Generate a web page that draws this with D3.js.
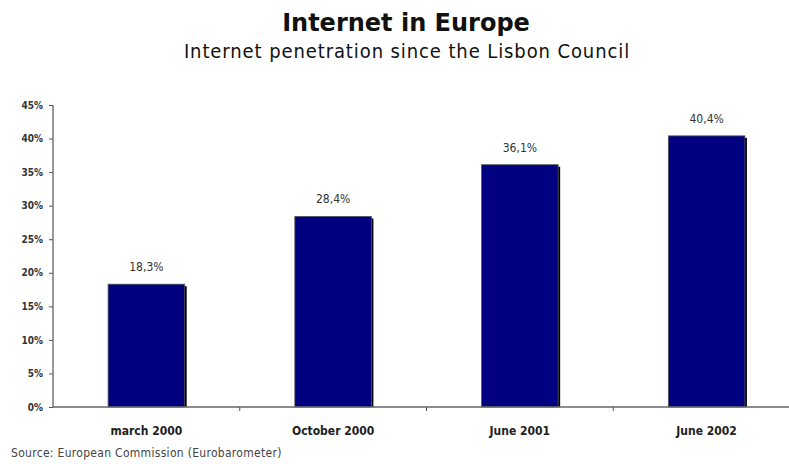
<!DOCTYPE html>
<html>
<head>
<meta charset="utf-8">
<script src="https://cdn.jsdelivr.net/npm/d3@7"></script>
<style>
  body { margin: 0; background: #fff; }
  svg { display: block; }
</style>
</head>
<body>
<div id="vis"></div>
<script>
// data
var categories = ["march 2000", "October 2000", "June 2001", "June 2002"];
var values = [18.3, 28.4, 36.1, 40.4];
var yTicks = [0, 5, 10, 15, 20, 25, 30, 35, 40, 45];

var w = 789, h = 464;
var narrow = "'DejaVu Sans Condensed', 'Liberation Sans Narrow', sans-serif";

var svg = d3.select("#vis").append("svg")
  .attr("width", w)
  .attr("height", h);

// title
svg.append("text")
  .attr("x", 406).attr("y", 31)
  .attr("text-anchor", "middle")
  .style("font-family", "'DejaVu Sans', Verdana, sans-serif")
  .style("font-weight", "bold")
  .style("font-size", "24px")
  .attr("fill", "#111")
  .text("Internet in Europe");

svg.append("text")
  .attr("x", 407).attr("y", 58)
  .attr("text-anchor", "middle")
  .style("font-family", narrow)
  .style("font-size", "20px")
  .style("letter-spacing", "0.9px")
  .attr("fill", "#111")
  .text("Internet penetration since the Lisbon Council");

var x0 = 53, x1 = 800, y0 = 407, y1 = 105;

var xScale = d3.scaleBand()
  .domain(categories)
  .range([x0, x1])
  .paddingInner(0.59)
  .paddingOuter(0.295);

var yScale = d3.scaleLinear()
  .domain([0, 45])
  .range([y0, y1]);

// bars with a dark drop shadow on the right
var bars = svg.append("g");
bars.selectAll("rect.shadow")
  .data(values)
  .enter()
  .append("rect")
  .attr("class", "shadow")
  .attr("x", function(d, i){ return xScale(categories[i]) + 2; })
  .attr("y", function(d){ return yScale(d) + 2; })
  .attr("width", xScale.bandwidth())
  .attr("height", function(d){ return y0 - yScale(d) - 2; })
  .attr("fill", "#000");

bars.selectAll("rect.bar")
  .data(values)
  .enter()
  .append("rect")
  .attr("class", "bar")
  .attr("x", function(d, i){ return xScale(categories[i]); })
  .attr("y", function(d){ return yScale(d); })
  .attr("width", xScale.bandwidth())
  .attr("height", function(d){ return y0 - yScale(d); })
  .attr("fill", "#000080")
  .attr("stroke", "#555")
  .attr("stroke-width", 0.8);

// value labels
svg.selectAll("text.val")
  .data(values)
  .enter()
  .append("text")
  .attr("class", "val")
  .attr("x", function(d, i){ return xScale(categories[i]) + xScale.bandwidth() / 2; })
  .attr("y", function(d){ return yScale(d) - 13; })
  .attr("text-anchor", "middle")
  .style("font-family", narrow)
  .style("font-size", "12px")
  .attr("fill", "#333")
  .text(function(d){ return String(d).replace(".", ",") + "%"; });

// y axis
var yAxis = d3.axisLeft(yScale)
  .tickValues(yTicks)
  .tickSize(4)
  .tickFormat(function(d){ return d + "%"; });

var gy = svg.append("g")
  .attr("transform", "translate(" + x0 + ",0)")
  .call(yAxis);
gy.select(".domain").attr("stroke", "#777").attr("stroke-width", 1.5).attr("d", "M0," + y1 + "V" + y0);
gy.selectAll(".tick line").attr("stroke", "#555");
gy.selectAll(".tick text")
  .attr("x", -10)
  .style("font-family", narrow)
  .style("font-weight", "bold")
  .style("font-size", "10px")
  .attr("fill", "#333");

// x axis
var gx = svg.append("g")
  .attr("transform", "translate(0," + y0 + ")");
gx.append("line")
  .attr("x1", x0).attr("x2", w)
  .attr("stroke", "#666").attr("stroke-width", 1.5);
gx.selectAll("line.tick")
  .data(categories.slice(1))
  .enter()
  .append("line")
  .attr("class", "tick")
  .attr("x1", function(d){ return xScale(d) - xScale.step() * xScale.paddingInner() / 2; })
  .attr("x2", function(d){ return xScale(d) - xScale.step() * xScale.paddingInner() / 2; })
  .attr("y1", 0).attr("y2", 4)
  .attr("stroke", "#555");
gx.selectAll("text")
  .data(categories)
  .enter()
  .append("text")
  .attr("x", function(d){ return xScale(d) + xScale.bandwidth() / 2; })
  .attr("y", 28)
  .attr("text-anchor", "middle")
  .style("font-family", narrow)
  .style("font-weight", "bold")
  .style("font-size", "12px")
  .attr("fill", "#222")
  .text(function(d){ return d; });

// source
svg.append("text")
  .attr("x", 11).attr("y", 457)
  .style("font-family", narrow)
  .style("font-size", "12px")
  .style("letter-spacing", "0.3px")
  .attr("fill", "#444")
  .text("Source:  European Commission (Eurobarometer)");
</script>
</body>
</html>
